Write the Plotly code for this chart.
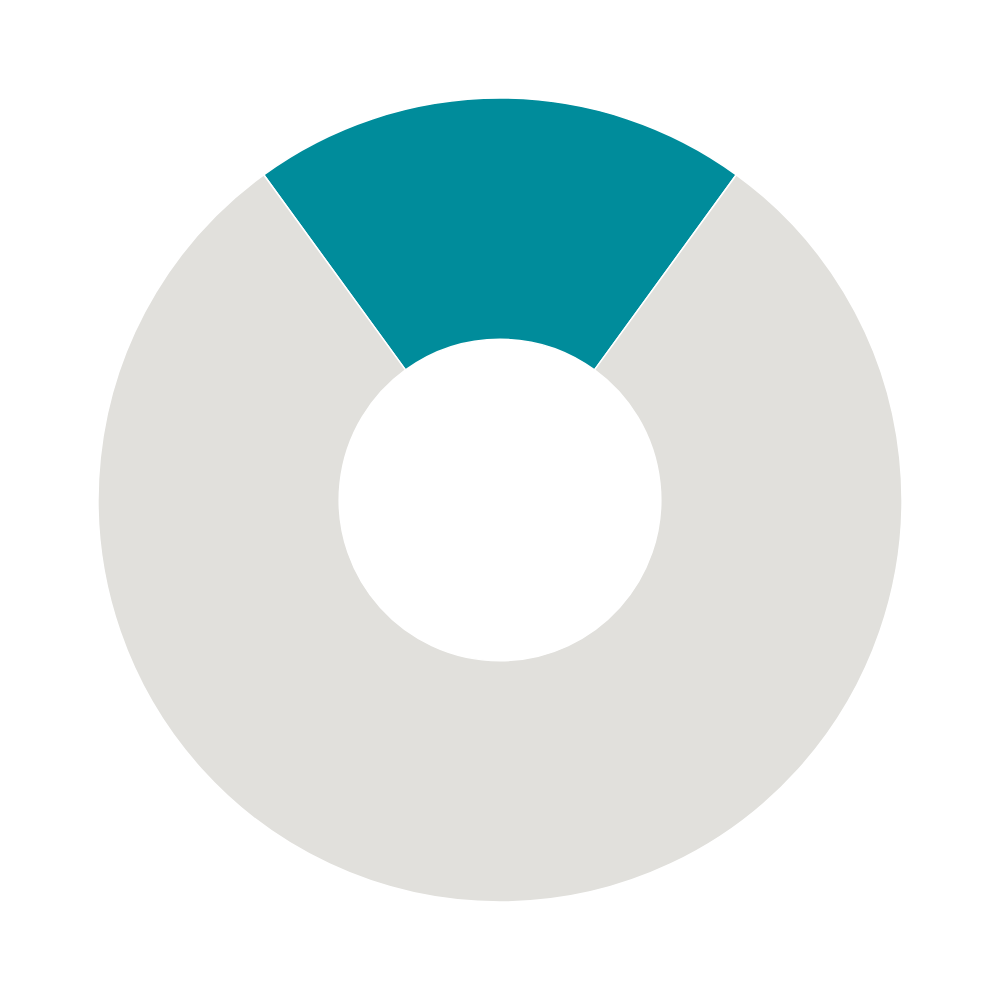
import plotly.graph_objects as go

labels = ["Highlighted", "Rest"]
values = [20, 80]
colors = ["#008C9B", "#E1E0DC"]

fig = go.Figure(go.Pie(
    labels=labels,
    values=values,
    hole=0.40,
    sort=False,
    direction="clockwise",
    rotation=-36,
    marker=dict(colors=colors, line=dict(color="white", width=1.5)),
    textinfo="none",
    hoverinfo="label+percent",
    domain=dict(x=[0.090, 0.894], y=[0.106, 0.910]),
))
fig.update_layout(
    width=1000, height=1000,
    margin=dict(l=0, r=0, t=0, b=0),
    showlegend=False,
    paper_bgcolor="white",
    plot_bgcolor="white",
)
fig.write_html("out.html")
